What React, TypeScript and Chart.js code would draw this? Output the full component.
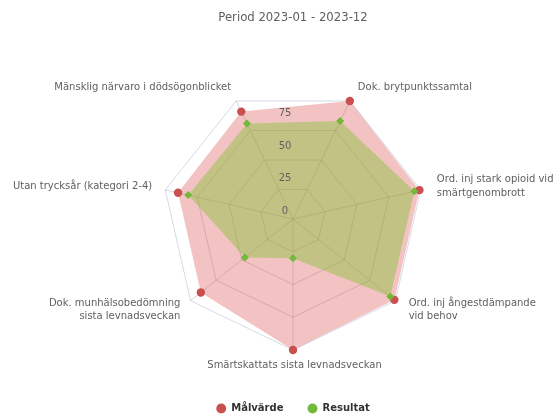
import React, { useEffect, useRef } from 'react';
import { Chart, registerables } from 'chart.js';

Chart.register(...registerables);

// ---- data ----
const categories: (string | string[])[] = [
  'Mänsklig närvaro i dödsögonblicket',
  'Dok. brytpunktssamtal',
  ['Ord. inj stark opioid vid', 'smärtgenombrott'],
  ['Ord. inj ångestdämpande', 'vid behov'],
  'Smärtskattats sista levnadsveckan',
  ['Dok. munhälsobedömning', 'sista levnadsveckan'],
  'Utan trycksår (kategori 2-4)',
];
const malvarde = [91, 100, 99, 99, 100, 90, 90];
const resultat = [81, 83, 95, 95, 30, 47, 82];
const tickValues = [0, 25, 50, 75];
const seriesNames = ['Målvärde', 'Resultat'];
const titleText = 'Period 2023-01 - 2023-12';

// ---- style ----
const FONT = 'DejaVu Sans';
const pointColors = ['#c9504e', '#72b83a'];
const fillColors = ['rgba(222,82,82,0.35)', 'rgba(128,192,48,0.42)'];
const gridColor = 'rgba(105,105,105,0.27)';
const outerRingColor = '#d3dae9';

const labelPlugin = {
  id: 'spiderLabels',
  afterDraw(chart: any) {
    const r = chart.scales.r;
    const ctx = chart.ctx as CanvasRenderingContext2D;
    ctx.save();
    ctx.fillStyle = '#606060';
    ctx.textBaseline = 'middle';
    ctx.textAlign = 'center';
    ctx.font = `10px "${FONT}"`;
    for (const v of tickValues) {
      const d = r.getDistanceFromCenterForValue(v);
      ctx.fillText(String(v), r.xCenter - 8, r.yCenter - d - 7.5);
    }
    const lineH = 13.5;
    categories.forEach((lab, i) => {
      const lines = Array.isArray(lab) ? lab : [lab];
      const p = r.getPointPosition(i, r.drawingArea + 15);
      const dx = p.x - r.xCenter;
      ctx.textAlign = Math.abs(dx) < 2 ? 'center' : dx > 0 ? 'left' : 'right';
      const x = p.x + 1.5;
      const y0 = p.y - ((lines.length - 1) * lineH) / 2;
      lines.forEach((t, k) => ctx.fillText(t, x, y0 + k * lineH));
    });
    ctx.restore();
  },
};

export default function App() {
  const ref = useRef<HTMLCanvasElement | null>(null);

  useEffect(() => {
    if (!ref.current) return;
    const chart = new Chart(ref.current, {
      type: 'radar',
      data: {
        labels: categories as any,
        datasets: [
          {
            label: seriesNames[0],
            data: malvarde,
            order: 2,
            backgroundColor: fillColors[0],
            borderColor: 'rgba(0,0,0,0)',
            borderWidth: 0,
            fill: true,
            pointStyle: 'circle',
            pointRadius: 4.2,
            pointBackgroundColor: pointColors[0],
            pointBorderWidth: 0,
            pointBorderColor: 'rgba(0,0,0,0)',
          },
          {
            label: seriesNames[1],
            data: resultat,
            order: 1,
            backgroundColor: fillColors[1],
            borderColor: 'rgba(0,0,0,0)',
            borderWidth: 0,
            fill: true,
            pointStyle: 'rectRot',
            pointRadius: 4,
            pointBackgroundColor: pointColors[1],
            pointBorderWidth: 0,
            pointBorderColor: 'rgba(0,0,0,0)',
          },
        ],
      },
      options: {
        responsive: false,
        animation: false,
        events: [],
        layout: { padding: { left: 162, right: 134, top: 0, bottom: -9.5 } },
        plugins: {
          title: {
            display: true,
            text: titleText,
            color: '#606060',
            font: { family: FONT, size: 11.7, weight: 'normal' },
            padding: { top: 11, bottom: 34.5 },
          },
          legend: {
            position: 'bottom',
            labels: {
              usePointStyle: true,
              pointStyle: 'circle',
              boxHeight: 7,
              boxWidth: 10,
              padding: 24,
              color: '#333333',
              font: { family: FONT, size: 10, weight: 'bold' },
              sort: (a: any, b: any) => a.datasetIndex - b.datasetIndex,
              generateLabels: (c: any) => {
                const items = (Chart.defaults.plugins.legend.labels as any).generateLabels(c);
                return items.map((it: any) => ({
                  ...it,
                  fillStyle: pointColors[it.datasetIndex],
                  strokeStyle: pointColors[it.datasetIndex],
                  lineWidth: 0,
                  pointStyle: 'circle',
                }));
              },
            },
          },
          tooltip: { enabled: false },
        },
        scales: {
          r: {
            min: 0,
            max: 100,
            startAngle: -360 / 14,
            z: 1,
            ticks: { display: false, stepSize: 25 },
            pointLabels: { display: false },
            grid: {
              color: (c: any) => (c.tick && c.tick.value === 100 ? outerRingColor : gridColor),
              lineWidth: 1,
            },
            angleLines: { color: gridColor, lineWidth: 1 },
          },
        },
      } as any,
      plugins: [labelPlugin],
    });
    return () => chart.destroy();
  }, []);

  return (
    <div style={{ position: 'fixed', left: 0, top: 0, width: 558, height: 414, background: '#ffffff' }}>
      <canvas ref={ref} width={558} height={414} style={{ display: 'block', width: 558, height: 414 }} />
    </div>
  );
}
